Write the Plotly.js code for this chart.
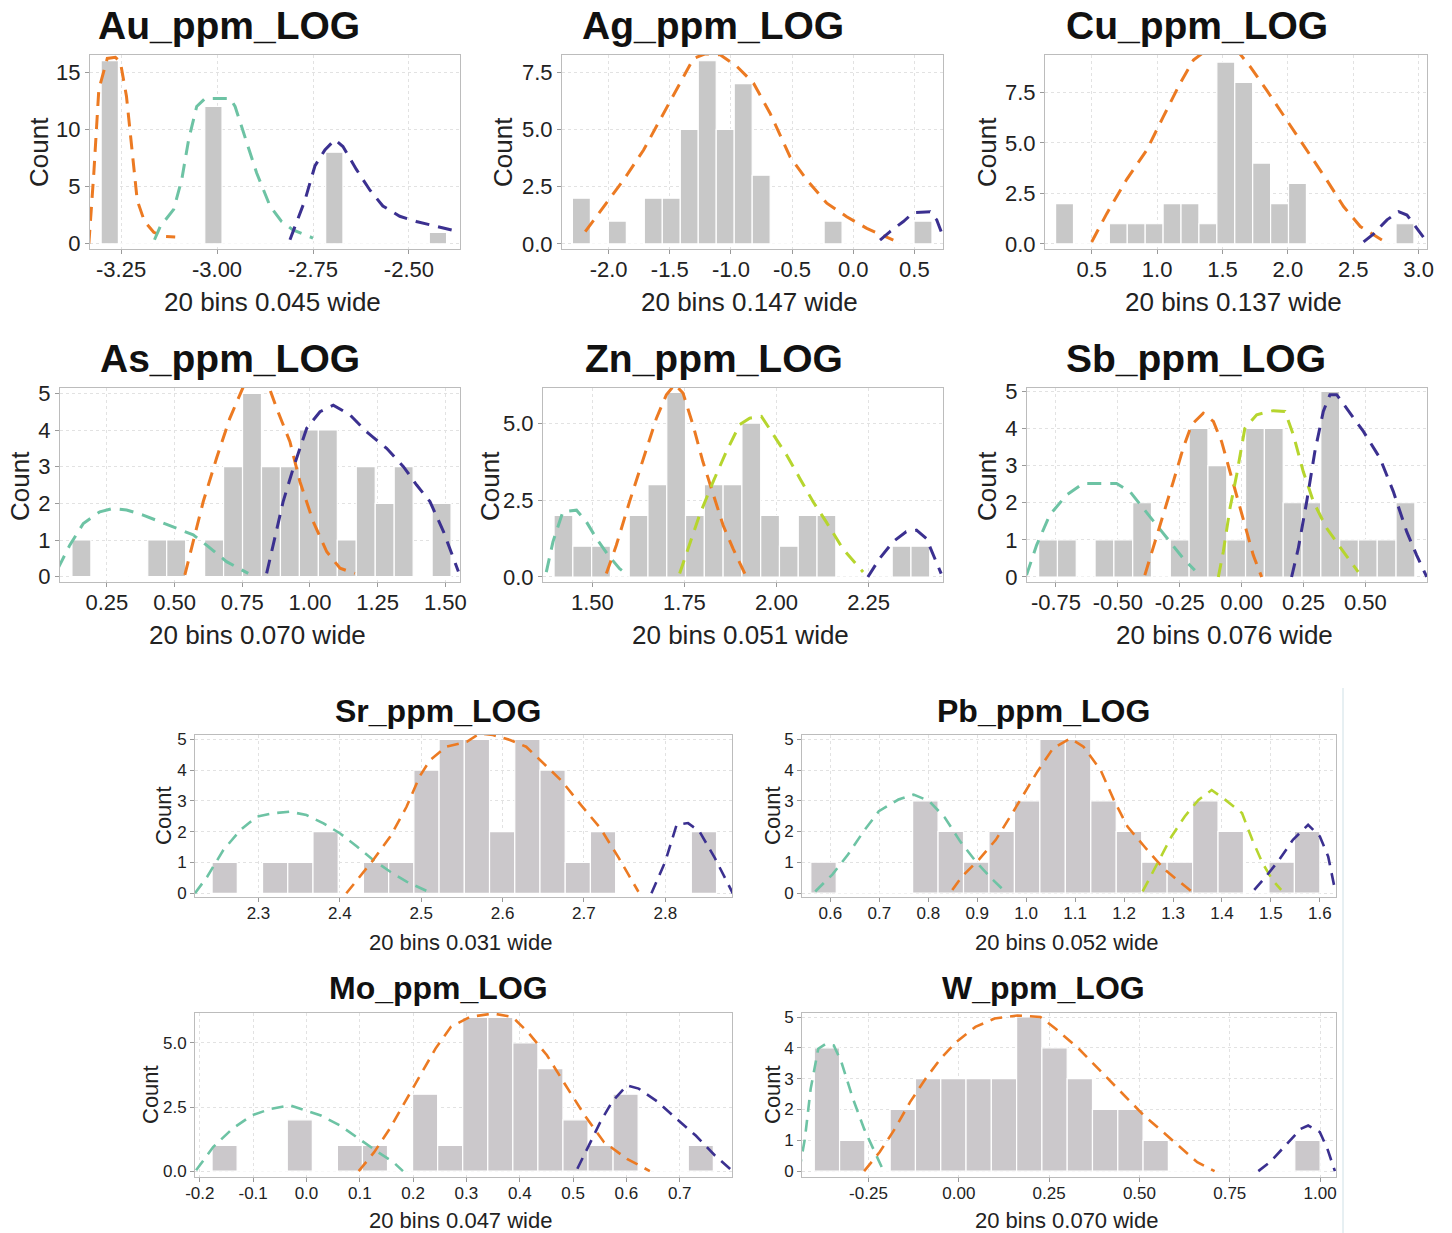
<!DOCTYPE html>
<html><head><meta charset="utf-8">
<script src="https://cdn.plot.ly/plotly-3.0.1.min.js"></script>
<style>html,body{margin:0;padding:0;background:#fff}#chart{width:1452px;height:1233px}</style>
</head><body><div id="chart"></div>
<script>
// ---------------- DATA ----------------
const auName = 'Au_ppm_LOG', auXLabel = '20 bins 0.045 wide';
const auBinStart = -3.302, auBinWidth = 0.045;
const auCounts = [16,0,0,0,0,0,12,0,0,0,0,0,0,8,0,0,0,0,0,1];
const auXTicks = [-3.25,-3.0,-2.75,-2.5], auYTicks = [0,5,10,15];
const auOrangeX = [-3.334,-3.321,-3.308,-3.286,-3.265,-3.252,-3.236,-3.221,-3.208,-3.189,-3.165,-3.139,-3.109];
const auOrangeY = [0,6.2,13.5,16.2,16.3,15.9,12.9,7.9,3.8,1.95,1.0,0.64,0.58];
const auTealX = [-3.163,-3.148,-3.113,-3.092,-3.074,-3.053,-3.031,-2.966,-2.953,-2.927,-2.897,-2.862,-2.832,-2.802,-2.750];
const auTealY = [0.35,1.5,3.0,5.6,9.1,12.0,12.7,12.7,12.0,9.4,6.2,3.3,1.95,1.2,0.5];
const auNavyX = [-2.810,-2.771,-2.745,-2.719,-2.693,-2.672,-2.637,-2.602,-2.568,-2.524,-2.481,-2.438,-2.377];
const auNavyY = [0.35,3.8,6.8,8.2,9.1,8.5,6.5,4.7,3.3,2.4,1.95,1.6,1.1];

const agName = 'Ag_ppm_LOG', agXLabel = '20 bins 0.147 wide';
const agBinStart = -2.296, agBinWidth = 0.147;
const agCounts = [2,0,1,0,2,2,5,8,5,7,3,0,0,0,1,0,0,0,0,1];
const agXTicks = [-2.0,-1.5,-1.0,-0.5,0.0,0.5], agYTicks = [0,2.5,5,7.5];
const agOrangeX = [-2.191,-2.041,-1.877,-1.714,-1.564,-1.414,-1.306,-1.210,-1.088,-0.951,-0.815,-0.679,-0.516,-0.380,-0.216,-0.053,0.111,0.328];
const agOrangeY = [0.54,1.63,2.8,4.1,5.56,7.0,8.1,8.3,8.26,7.75,7.02,5.7,3.8,2.8,1.78,1.19,0.68,0.17];
const agNavyX = [0.219,0.301,0.410,0.492,0.628,0.683,0.750];
const agNavyY = [0.17,0.54,0.98,1.37,1.41,1.05,0.1];

const cuName = 'Cu_ppm_LOG', cuXLabel = '20 bins 0.137 wide';
const cuBinStart = 0.224, cuBinWidth = 0.137;
const cuCounts = [2,0,0,1,1,1,2,2,1,9,8,4,2,3,0,0,0,0,0,1];
const cuXTicks = [0.5,1.0,1.5,2.0,2.5,3.0], cuYTicks = [0,2.5,5,7.5];
const cuOrangeX = [0.5,0.615,0.768,0.921,1.048,1.176,1.278,1.380,1.610,1.712,1.839,1.992,2.145,2.298,2.426,2.554,2.719];
const cuOrangeY = [0.1,1.5,3.2,4.65,6.3,7.95,9.1,9.6,9.6,8.77,7.6,6.13,4.65,3.16,1.85,0.86,0.2];
const cuNavyX = [2.579,2.656,2.758,2.847,2.911,2.974,3.064];
const cuNavyY = [0.1,0.5,1.19,1.6,1.43,0.86,0.1];

const asName = 'As_ppm_LOG', asXLabel = '20 bins 0.070 wide';
const asBinStart = 0.121, asBinWidth = 0.070;
const asCounts = [1,0,0,0,1,1,0,1,3,5,3,3,4,4,1,3,2,3,0,2];
const asXTicks = [0.25,0.5,0.75,1.0,1.25,1.5], asYTicks = [0,1,2,3,4,5];
const asTealX = [0.070,0.113,0.163,0.224,0.273,0.323,0.384,0.446,0.507,0.569,0.618,0.692,0.772];
const asTealY = [0.23,0.86,1.45,1.77,1.86,1.82,1.68,1.5,1.32,1.14,0.86,0.41,0.09];
const asOrangeX = [0.538,0.569,0.606,0.655,0.704,0.754,0.803,0.846,0.877,0.926,0.963,1.012,1.062,1.111,1.166];
const asOrangeY = [0.05,0.95,2.05,3.23,4.32,5.18,5.32,5.23,4.59,3.68,2.59,1.5,0.68,0.23,0.09];
const asNavyX = [0.840,0.865,0.901,0.938,0.988,1.037,1.086,1.148,1.209,1.283,1.345,1.394,1.443,1.493,1.548];
const asNavyY = [0.09,0.86,2.05,2.95,4.05,4.5,4.68,4.41,3.95,3.5,3.0,2.5,2.05,1.23,0.14];

const znName = 'Zn_ppm_LOG', znXLabel = '20 bins 0.051 wide';
const znBinStart = 1.396, znBinWidth = 0.051;
const znCounts = [2,1,1,0,2,3,6,2,3,3,5,2,1,2,2,0,0,0,1,1];
const znXTicks = [1.5,1.75,2.0,2.25], znYTicks = [0,2.5,5];
const znTealX = [1.375,1.393,1.420,1.457,1.484,1.511,1.543,1.574,1.592];
const znTealY = [0.16,1.14,2.12,2.17,1.79,1.25,0.71,0.27,0.11];
const znOrangeX = [1.538,1.565,1.601,1.638,1.674,1.701,1.724,1.746,1.773,1.800,1.828,1.855,1.882,1.914];
const znOrangeY = [0.11,1.03,2.45,3.86,5.16,5.92,6.25,5.98,4.95,3.75,2.66,1.68,0.92,0.11];
const znLimeX = [1.737,1.764,1.791,1.828,1.864,1.900,1.927,1.959,1.991,2.027,2.063,2.099,2.135,2.180,2.235];
const znLimeY = [0.11,1.03,2.01,3.1,4.08,4.95,5.16,5.22,4.62,3.97,3.21,2.45,1.79,0.92,0.16];
const znNavyX = [2.248,2.280,2.316,2.352,2.380,2.407,2.447];
const znNavyY = [0,0.6,1.14,1.47,1.52,1.25,0.11];

const sbName = 'Sb_ppm_LOG', sbXLabel = '20 bins 0.076 wide';
const sbBinStart = -0.820, sbBinWidth = 0.076;
const sbCounts = [1,1,0,1,1,2,0,1,4,3,1,4,4,2,2,5,1,1,1,2];
const sbXTicks = [-0.75,-0.5,-0.25,0.0,0.25,0.5], sbYTicks = [0,1,2,3,4,5];
const sbTealX = [-0.869,-0.828,-0.775,-0.707,-0.640,-0.572,-0.505,-0.451,-0.397,-0.343,-0.290,-0.236,-0.189];
const sbTealY = [0.05,0.86,1.67,2.21,2.52,2.52,2.52,2.3,1.85,1.4,0.95,0.5,0.18];
const sbOrangeX = [-0.391,-0.357,-0.317,-0.276,-0.236,-0.202,-0.155,-0.114,-0.081,-0.047,-0.013,0.020,0.047,0.081];
const sbOrangeY = [0.05,0.77,1.67,2.57,3.47,4.1,4.41,4.19,3.65,2.84,2.03,1.22,0.59,0];
const sbLimeX = [-0.094,-0.074,-0.047,-0.020,0.013,0.061,0.128,0.175,0.209,0.249,0.290,0.344,0.411,0.471];
const sbLimeY = [0,0.68,1.85,2.75,4.0,4.37,4.48,4.46,3.83,2.84,2.03,1.31,0.68,0.14];
const sbNavyX = [0.202,0.229,0.263,0.296,0.330,0.357,0.384,0.424,0.492,0.559,0.613,0.667,0.707,0.748];
const sbNavyY = [0,0.77,2.03,3.38,4.46,4.91,4.91,4.55,3.92,3.2,2.3,1.22,0.59,0];

const srName = 'Sr_ppm_LOG', srXLabel = '20 bins 0.031 wide';
const srBinStart = 2.243, srBinWidth = 0.031;
const srCounts = [1,0,1,1,2,0,1,1,4,5,5,2,5,4,1,2,0,0,0,2];
const srXTicks = [2.3,2.4,2.5,2.6,2.7,2.8], srYTicks = [0,1,2,3,4,5];
const srTealX = [2.222,2.237,2.257,2.278,2.298,2.318,2.339,2.359,2.380,2.400,2.421,2.441,2.462,2.482,2.509];
const srTealY = [0,0.54,1.41,2.06,2.49,2.6,2.65,2.54,2.27,1.95,1.52,1.08,0.7,0.38,0.05];
const srOrangeX = [2.408,2.421,2.441,2.462,2.482,2.498,2.511,2.531,2.556,2.572,2.588,2.609,2.629,2.646,2.673,2.696,2.720,2.743,2.767];
const srOrangeY = [0,0.43,1.08,1.84,2.81,3.79,4.33,4.76,4.92,5.19,5.14,4.98,4.76,4.33,3.64,2.88,2.12,1.14,0.05];
const srNavyX = [2.783,2.800,2.814,2.828,2.842,2.861,2.883];
const srNavyY = [0,1.03,2.23,2.28,2.01,1.14,0];

const pbName = 'Pb_ppm_LOG', pbXLabel = '20 bins 0.052 wide';
const pbBinStart = 0.560, pbBinWidth = 0.052;
const pbCounts = [1,0,0,0,3,2,1,2,3,5,5,3,2,1,1,3,2,0,1,2];
const pbXTicks = [0.6,0.7,0.8,0.9,1.0,1.1,1.2,1.3,1.4,1.5,1.6], pbYTicks = [0,1,2,3,4,5];
const pbTealX = [0.569,0.604,0.636,0.668,0.699,0.739,0.770,0.802,0.834,0.865,0.897,0.928,0.960];
const pbTealY = [0.05,0.6,1.25,2.01,2.66,3.04,3.2,2.99,2.45,1.68,1.03,0.49,0];
const pbOrangeX = [0.849,0.869,0.903,0.938,0.976,1.021,1.055,1.090,1.117,1.152,1.179,1.207,1.241,1.283,1.338];
const pbOrangeY = [0.1,0.54,1.08,1.73,2.71,3.9,4.71,5.03,4.76,4.0,3.03,2.16,1.52,0.76,0.05];
const pbLimeX = [1.238,1.269,1.297,1.324,1.352,1.379,1.407,1.441,1.462,1.483,1.503,1.521];
const pbLimeY = [0.05,0.97,1.84,2.49,3.03,3.35,3.03,2.6,1.73,0.97,0.43,0.1];
const pbNavyX = [1.466,1.490,1.517,1.545,1.576,1.600,1.617,1.631];
const pbNavyY = [0.1,0.54,1.08,1.73,2.22,1.84,1.19,0.1];

const moName = 'Mo_ppm_LOG', moXLabel = '20 bins 0.047 wide';
const moBinStart = -0.177, moBinWidth = 0.047;
const moCounts = [1,0,0,2,0,1,1,0,3,1,6,6,5,4,2,1,3,0,0,1];
const moXTicks = [-0.2,-0.1,0.0,0.1,0.2,0.3,0.4,0.5,0.6,0.7], moYTicks = [0,2.5,5];
const moTealX = [-0.207,-0.175,-0.139,-0.103,-0.067,-0.031,-0.002,0.027,0.063,0.098,0.134,0.163,0.181];
const moTealY = [0.03,0.94,1.65,2.17,2.43,2.57,2.37,2.17,1.78,1.26,0.74,0.35,0];
const moOrangeX = [0.098,0.127,0.156,0.185,0.213,0.242,0.271,0.307,0.350,0.386,0.415,0.451,0.486,0.522,0.558,0.601,0.644];
const moOrangeY = [0,0.74,1.65,2.7,3.74,4.78,5.63,6.02,6.15,6.02,5.43,4.52,3.35,2.17,1.13,0.48,0];
const moNavyX = [0.508,0.529,0.551,0.573,0.601,0.623,0.659,0.694,0.730,0.766,0.799];
const moNavyY = [0.09,1.0,1.91,2.7,3.35,3.22,2.7,2.04,1.39,0.61,0];

const wName = 'W_ppm_LOG', wXLabel = '20 bins 0.070 wide';
const wBinStart = -0.400, wBinWidth = 0.070;
const wCounts = [4,1,0,2,3,3,3,3,5,4,3,2,2,1,0,0,0,0,0,1];
const wXTicks = [-0.25,0.0,0.25,0.5,0.75,1.0], wYTicks = [0,1,2,3,4,5];
const wTealX = [-0.442,-0.426,-0.410,-0.389,-0.368,-0.346,-0.325,-0.293,-0.262,-0.240,-0.209];
const wTealY = [0,1.05,2.67,3.97,4.13,4.08,3.54,2.35,1.37,0.83,0.02];
const wOrangeX = [-0.262,-0.219,-0.177,-0.135,-0.092,-0.050,-0.007,0.046,0.099,0.162,0.226,0.268,0.332,0.395,0.459,0.512,0.565,0.618,0.660,0.708];
const wOrangeY = [0,0.62,1.37,2.24,3.0,3.65,4.19,4.68,4.95,5.05,5.0,4.62,3.97,3.21,2.46,1.81,1.27,0.73,0.29,0];
const wNavyX = [0.829,0.861,0.904,0.946,0.967,0.999,1.020,1.041];
const wNavyY = [0,0.29,0.83,1.37,1.48,1.27,0.73,0];

// ---------------- STYLE / LAYOUT ----------------
const C_ORANGE = '#ec7a22', C_TEAL = '#6dc3a4', C_NAVY = '#3b3090', C_LIME = '#b6d52e';
const FONT = '"Liberation Sans", Arial, Helvetica, sans-serif';
const WPX = 1452, HPX = 1233;

const panels = [
  {name: auName, xlab: auXLabel, start: auBinStart, bw: auBinWidth, counts: auCounts,
   curves: [[auOrangeX, auOrangeY, C_ORANGE], [auTealX, auTealY, C_TEAL], [auNavyX, auNavyY, C_NAVY]],
   box: [90,460,55,249], xr: [-3.331,-2.367], yr: [-0.46,16.5], xt: auXTicks, xdp: 2, yt: auYTicks, ydp: 0,
   big: true, tpos: [229,25], cpos: [39,152], lpos: 302},
  {name: agName, xlab: agXLabel, start: agBinStart, bw: agBinWidth, counts: agCounts,
   curves: [[agOrangeX, agOrangeY, C_ORANGE], [agNavyX, agNavyY, C_NAVY]],
   box: [562,943,55,249], xr: [-2.381,0.734], yr: [-0.22,8.25], xt: agXTicks, xdp: 1, yt: agYTicks, ydp: 1,
   big: true, tpos: [713,25], cpos: [503,152], lpos: 302},
  {name: cuName, xlab: cuXLabel, start: cuBinStart, bw: cuBinWidth, counts: cuCounts,
   curves: [[cuOrangeX, cuOrangeY, C_ORANGE], [cuNavyX, cuNavyY, C_NAVY]],
   box: [1045,1427,55,249], xr: [0.143,3.064], yr: [-0.25,9.35], xt: cuXTicks, xdp: 1, yt: cuYTicks, ydp: 1,
   big: true, tpos: [1197,25], cpos: [987,152], lpos: 302},
  {name: asName, xlab: asXLabel, start: asBinStart, bw: asBinWidth, counts: asCounts,
   curves: [[asTealX, asTealY, C_TEAL], [asOrangeX, asOrangeY, C_ORANGE], [asNavyX, asNavyY, C_NAVY]],
   box: [60,460,388,582], xr: [0.077,1.554], yr: [-0.145,5.146], xt: asXTicks, xdp: 2, yt: asYTicks, ydp: 0,
   big: true, tpos: [230,358], cpos: [20,486], lpos: 635},
  {name: znName, xlab: znXLabel, start: znBinStart, bw: znBinWidth, counts: znCounts,
   curves: [[znTealX, znTealY, C_TEAL], [znOrangeX, znOrangeY, C_ORANGE], [znLimeX, znLimeY, C_LIME], [znNavyX, znNavyY, C_NAVY]],
   box: [543,943,388,582], xr: [1.366,2.452], yr: [-0.163,6.14], xt: znXTicks, xdp: 2, yt: znYTicks, ydp: 1,
   big: true, tpos: [714,358], cpos: [490,486], lpos: 635},
  {name: sbName, xlab: sbXLabel, start: sbBinStart, bw: sbBinWidth, counts: sbCounts,
   curves: [[sbTealX, sbTealY, C_TEAL], [sbOrangeX, sbOrangeY, C_ORANGE], [sbLimeX, sbLimeY, C_LIME], [sbNavyX, sbNavyY, C_NAVY]],
   box: [1027,1427,388,582], xr: [-0.867,0.749], yr: [-0.135,5.09], xt: sbXTicks, xdp: 2, yt: sbYTicks, ydp: 0,
   big: true, tpos: [1196,358], cpos: [987,486], lpos: 635},
  {name: srName, xlab: srXLabel, start: srBinStart, bw: srBinWidth, counts: srCounts,
   curves: [[srTealX, srTealY, C_TEAL], [srOrangeX, srOrangeY, C_ORANGE], [srNavyX, srNavyY, C_NAVY]],
   box: [195,732,735,897], xr: [2.222,2.882], yr: [-0.12,5.14], xt: srXTicks, xdp: 1, yt: srYTicks, ydp: 0,
   big: false, tpos: [438,711], cpos: [163,816], lpos: 942},
  {name: pbName, xlab: pbXLabel, start: pbBinStart, bw: pbBinWidth, counts: pbCounts,
   curves: [[pbTealX, pbTealY, C_TEAL], [pbOrangeX, pbOrangeY, C_ORANGE], [pbLimeX, pbLimeY, C_LIME], [pbNavyX, pbNavyY, C_NAVY]],
   box: [802,1336,735,897], xr: [0.542,1.633], yr: [-0.13,5.14], xt: pbXTicks, xdp: 1, yt: pbYTicks, ydp: 0,
   big: false, tpos: [1043,711], cpos: [772,816], lpos: 942},
  {name: moName, xlab: moXLabel, start: moBinStart, bw: moBinWidth, counts: moCounts,
   curves: [[moTealX, moTealY, C_TEAL], [moOrangeX, moOrangeY, C_ORANGE], [moNavyX, moNavyY, C_NAVY]],
   box: [195,732,1013,1177], xr: [-0.209,0.798], yr: [-0.23,6.17], xt: moXTicks, xdp: 1, yt: moYTicks, ydp: 1,
   big: false, tpos: [438,988], cpos: [150,1095], lpos: 1220},
  {name: wName, xlab: wXLabel, start: wBinStart, bw: wBinWidth, counts: wCounts,
   curves: [[wTealX, wTealY, C_TEAL], [wOrangeX, wOrangeY, C_ORANGE], [wNavyX, wNavyY, C_NAVY]],
   box: [802,1336,1013,1177], xr: [-0.434,1.044], yr: [-0.19,5.13], xt: wXTicks, xdp: 2, yt: wYTicks, ydp: 0,
   big: false, tpos: [1043,988], cpos: [772,1095], lpos: 1220}
];

const traces = [];
const layout = {
  width: WPX, height: HPX, margin: {l:0, r:0, t:0, b:0},
  paper_bgcolor: '#ffffff', plot_bgcolor: '#ffffff', showlegend: false,
  font: {family: FONT, color: '#222'},
  annotations: [], shapes: []
};

panels.forEach((p, i) => {
  const n = i === 0 ? '' : String(i + 1);
  const xa = 'x' + n, ya = 'y' + n;
  const centers = p.counts.map((c, j) => p.start + (j + 0.5) * p.bw);
  traces.push({
    type: 'bar', x: centers, y: p.counts, width: p.counts.map(() => p.bw),
    xaxis: xa, yaxis: ya, hoverinfo: 'skip',
    marker: {color: p.big ? '#c8c8c8' : '#cbc8cb', line: {color: '#ffffff', width: 1.2}}
  });
  p.curves.forEach(([cx, cy, col]) => traces.push({
    type: 'scatter', mode: 'lines', x: cx, y: cy, xaxis: xa, yaxis: ya, hoverinfo: 'skip',
    cliponaxis: false,
    line: {color: col, width: p.big ? 3 : 2.6, dash: p.big ? '14px,9px' : '12px,8px'}
  }));
  const tickFont = {family: FONT, size: p.big ? 22 : 17, color: '#222'};
  const common = {
    showgrid: true, gridcolor: '#e2e2e2', griddash: 'dot', gridwidth: 1, zeroline: false,
    showline: true, mirror: true, linecolor: '#bcbcbc', linewidth: 1,
    ticks: 'outside', ticklen: 4, tickcolor: '#9a9a9a', tickfont: tickFont, fixedrange: true
  };
  layout['xaxis' + n] = Object.assign({}, common, {
    domain: [p.box[0] / WPX, p.box[1] / WPX], range: p.xr, anchor: ya,
    tickmode: 'array', tickvals: p.xt, ticktext: p.xt.map(v => v.toFixed(p.xdp)),
    ticklabelstandoff: -3
  });
  layout['yaxis' + n] = Object.assign({}, common, {
    domain: [1 - p.box[3] / HPX, 1 - p.box[2] / HPX], range: p.yr, anchor: xa,
    tickmode: 'array', tickvals: p.yt, ticktext: p.yt.map(v => v.toFixed(p.ydp))
  });
  layout.annotations.push({
    xref: 'paper', yref: 'paper', x: p.tpos[0] / WPX, y: 1 - p.tpos[1] / HPX,
    xanchor: 'center', yanchor: 'middle', showarrow: false,
    text: '<b>' + p.name + '</b>', font: {family: FONT, size: p.big ? 39 : 32, color: '#111'}
  });
  layout.annotations.push({
    xref: 'paper', yref: 'paper', x: ((p.box[0] + p.box[1]) / 2 - 3) / WPX, y: 1 - p.lpos / HPX,
    xanchor: 'center', yanchor: 'middle', showarrow: false,
    text: p.xlab, font: {family: FONT, size: p.big ? 26 : 22, color: '#222'}
  });
  layout.annotations.push({
    xref: 'paper', yref: 'paper', x: p.cpos[0] / WPX, y: 1 - p.cpos[1] / HPX,
    xanchor: 'center', yanchor: 'middle', showarrow: false, textangle: -90,
    text: 'Count', font: {family: FONT, size: p.big ? 26 : 22, color: '#222'}
  });
});

layout.shapes.push({
  type: 'line', xref: 'paper', yref: 'paper', x0: 1343 / WPX, x1: 1343 / WPX,
  y0: 0, y1: 1 - 688 / HPX, line: {color: '#cfe0e6', width: 1}
});

Plotly.newPlot('chart', traces, layout, {staticPlot: true, displayModeBar: false});
</script>
</body></html>
